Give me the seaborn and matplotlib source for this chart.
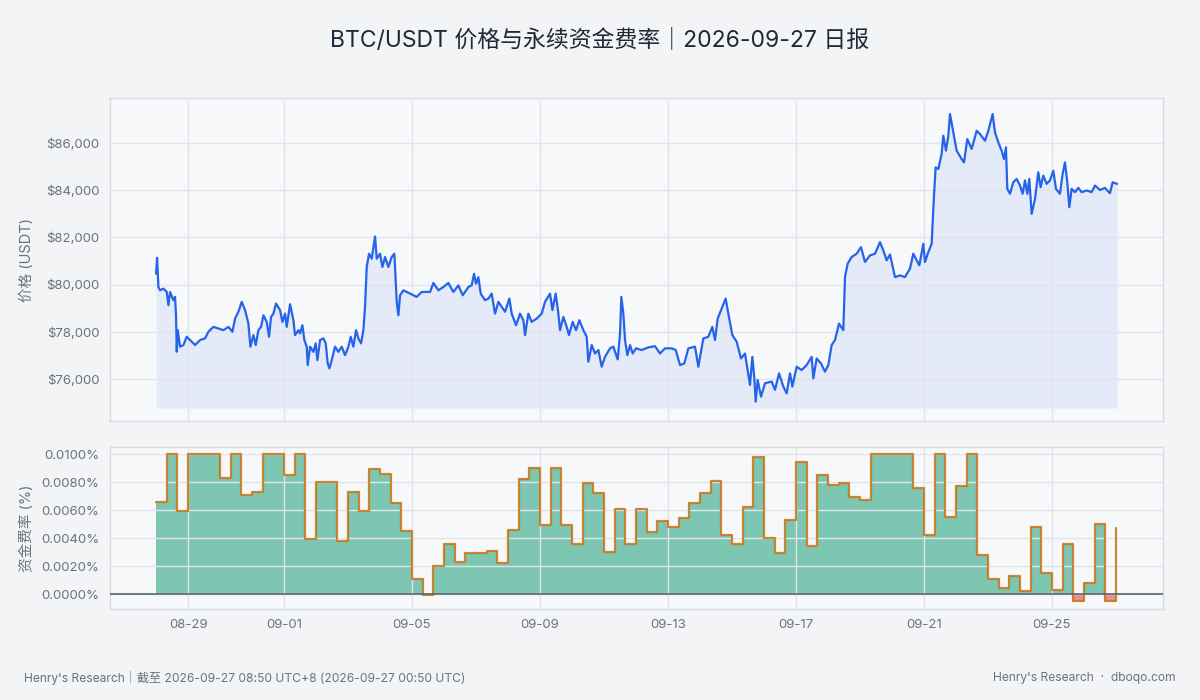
import numpy as np
import pandas as pd
import matplotlib
matplotlib.use("Agg")
import matplotlib.pyplot as plt
import matplotlib.dates as mdates
import matplotlib.ticker as mticker
import seaborn as sns

# ---------------- data ----------------
START = "2026-08-28 00:00"

# price series: hours since START, price (USDT)
price_hours = [
    0, 0.75, 1.75, 3, 5.5, 8, 9.25, 10.5, 13, 14.25, 15, 15.5, 16.25, 18, 20.5, 23, 25.5,
    29.25, 33, 36.75, 39.25, 43, 46.75, 50.5, 54.25, 57.25, 59.25, 61.75, 64.25, 66.75,
    69.25, 70.75, 73, 74.75, 76.75, 78.75, 80.5, 83, 84.75, 86.25, 88, 90, 93, 94.75,
    96.75, 98, 100.5, 103, 104.25, 106.75, 108, 109.75, 111.25, 113, 113.75, 115.5, 118,
    119.75, 121, 123, 125.5, 127.25, 128.75, 130, 131.75, 134.25, 136.75, 139.25, 141.75,
    144.25, 146, 148, 150, 151.75, 153.75, 155.5, 156.75, 158, 159.75, 161.75, 164.25,
    165.5, 168, 169.75, 171.75, 174.25, 176.75, 178.75,
    180, 180.5, 181.75, 183, 185.5, 190.5, 195.5, 199.25, 205.5, 208, 211.75, 215.5,
    219.25, 223, 226.75, 230, 234.25, 236.75, 238.5, 240, 241.75, 243.5, 246.75, 249.25,
    251.75, 254.25, 256.75, 259.25, 261.75, 265, 266.75, 270, 273, 275.5, 276.75, 279.25,
    281.75, 285.5, 289.25, 291.75, 295.5, 297.25, 299.75, 301.75, 303, 305.5, 308, 309.75,
    312.5, 315, 317.5, 320.5, 323, 324.25, 326.75, 329.25, 331.75, 334.25, 336.75, 340.5,
    343, 346.25, 348, 349, 350.5, 351.75, 353.5, 355.5, 357.5, 360,
    364.25, 369.25, 374.25, 378, 381.75, 386.75, 389.75, 393, 396.25, 399.25, 404.25,
    406.75, 410.5, 414.25, 417.25, 419.25, 421.25, 424.25, 427.25, 429.25, 432.25, 435.5,
    438.75, 441.75, 445.5, 447.25, 448.75, 449.75, 451.25, 453.75, 456.75, 461.75, 464.25,
    467.25, 470.5, 473, 475.5, 477.25, 480.5, 484.25, 488, 491.75, 493, 495.5, 498.75,
    501.75, 504.25, 506.75, 509.25, 512.25, 515.5, 516.75, 518.75, 521.75, 525.5, 528.75,
    531.75, 535.5, 539.25, 543,
    545.5, 548, 550.5, 554.25, 558, 561.75, 565.5, 568, 572.5, 575.5, 576.75, 579.25,
    581.75, 583.5, 584.75, 586.75, 589.25, 590.5, 592.5, 594.25, 595.5, 598, 600.5, 604.25,
    606, 608.5, 611.75, 615.5, 618, 621.75, 624.25, 627.5, 629.25, 631.75, 634.25, 636,
    637.5, 638.5, 640.5, 643, 645.5, 648, 650, 651.75, 653.5, 655, 656.75, 659.25, 661.75,
    663.5, 665.5, 668, 670.5, 673, 675, 678, 680, 681.75, 683.5, 685, 686.75, 689.25,
    691.75, 694.25, 698, 701.75, 704.25, 708, 711.75, 715.5, 717.5, 720.8,
]
price_values = [
    80465, 81140, 79900, 79760, 79830, 79690, 79130, 79690, 79340, 79480, 78630, 77155,
    78070, 77370, 77440, 77790, 77650, 77440, 77650, 77720, 78000, 78210, 78140, 78070,
    78210, 78000, 78560, 78850, 79270, 78920, 78350, 77370, 77860, 77440, 78070, 78210,
    78700, 78420, 77790, 78630, 78770, 79200, 78920, 78420, 78770, 78210, 79170, 78490,
    77860, 78070, 77930, 78280, 77650, 77370, 76590, 77370, 77150, 77510, 76800, 77650,
    77720, 77510, 76660, 76450, 76800, 77370, 77150, 77370, 77010, 77370, 77790, 77370,
    78070, 77720, 77510, 78070, 79060, 80750, 81310, 81100, 82040, 81100, 81310, 80750,
    81170, 80750, 81170, 81310,
    79900, 79270, 78700, 79550, 79760, 79620, 79480, 79690, 79690, 80070, 79760, 79900,
    80070, 79690, 79970, 79550, 79900, 79970, 80460, 80040, 80320, 79620, 79340, 79410,
    79620, 78770, 79270, 79060, 78850, 79410, 78770, 78280, 78770, 78490, 77860, 78770,
    78420, 78560, 78770, 79270, 79620, 78920, 79620, 78770, 78070, 78630, 78210, 77860,
    78420, 78070, 78490, 78070, 77790, 76730, 77440, 77080, 77230, 76520, 76940, 77300,
    77370, 76830, 77930, 79480, 78770, 77650, 77010, 77440, 77080, 77300,
    77230, 77340, 77390, 77080, 77300, 77300, 77230, 76590, 76660, 77300, 77370,
    76520, 77720, 77790, 78210, 77650, 78560, 78990, 79410, 78770, 77860, 77580,
    76870, 77080, 75750, 76940, 76030, 75040, 75960, 75250, 75820, 75890, 75540,
    76240, 75680, 75390, 76240, 75680, 76520, 76380, 76590, 76940, 76030, 76870, 76660,
    76310, 76590, 77440, 77650, 78350, 78070, 80320, 80890, 81170, 81310, 81590,
    80960, 81240, 81310, 81800,
    81450, 81030, 81280, 80320, 80390, 80320, 80680, 81310, 80820, 81730, 80960, 81380,
    81730, 83770, 84970, 84900, 85540, 86310, 85680, 86310, 87230, 86450, 85680, 85320,
    85180, 86170, 85750, 86520, 86380, 86100, 86520, 87230, 86450, 86030, 85680, 85320,
    85820, 84060, 83850, 84340, 84480, 84200, 83850, 84420, 83850, 84480, 83000, 83630, 84760,
    84130, 84620, 84270, 84420, 84830, 84060, 83850, 84690, 85180, 84340, 83280, 84060, 83920,
    84100, 83920, 83990, 83920, 84200, 84010, 84100, 83870, 84340, 84270,
]

# funding rate (%), one value per 8h settlement from 08-28 00:00 to 09-27 00:00
funding_rate = [
    0.0066, 0.0100, 0.0059, 0.0100, 0.0100, 0.0100, 0.0083, 0.0100, 0.0071, 0.0073,
    0.0100, 0.0100, 0.0085, 0.0100, 0.0039, 0.0080, 0.0080, 0.0038, 0.0073, 0.0059,
    0.0089, 0.0086, 0.0065, 0.0045, 0.0011, -0.0001, 0.0020, 0.0036, 0.0023, 0.0029,
    0.0029, 0.0031, 0.0022, 0.0046, 0.0082, 0.0090, 0.0049, 0.0090, 0.0049, 0.0036,
    0.0079, 0.0072, 0.0030, 0.0061, 0.0036, 0.0061, 0.0044, 0.0052, 0.0048, 0.0054,
    0.0065, 0.0072, 0.0081, 0.0042, 0.0036, 0.0062, 0.0098, 0.0040, 0.0029, 0.0053,
    0.0094, 0.0034, 0.0085, 0.0078, 0.0079, 0.0069, 0.0067, 0.0100, 0.0100, 0.0100,
    0.0100, 0.0076, 0.0042, 0.0100, 0.0055, 0.0077, 0.0100, 0.0028, 0.0011, 0.0004,
    0.0013, 0.0002, 0.0048, 0.0015, 0.0003, 0.0036, -0.0005, 0.0008, 0.0050, -0.0005,
    0.0047,
]

price_ticks = [76000, 78000, 80000, 82000, 84000, 86000]
funding_ticks = [0.0, 0.002, 0.004, 0.006, 0.008, 0.010]

TITLE = "BTC/USDT 价格与永续资金费率｜2026-09-27 日报"
FOOT_LEFT = "Henry's Research｜截至 2026-09-27 08:50 UTC+8 (2026-09-27 00:50 UTC)"
FOOT_RIGHT = "Henry's Research  ·  dboqo.com"

# ---------------- frames ----------------
t0 = pd.Timestamp(START)
price_df = pd.DataFrame({
    "time": t0 + pd.to_timedelta(price_hours, unit="h"),
    "price": price_values,
})
fund_df = pd.DataFrame({
    "time": pd.date_range(t0, periods=len(funding_rate), freq="8h"),
    "rate": funding_rate,
})

# ---------------- style ----------------
sns.set_theme(style="whitegrid")
plt.rcParams["font.family"] = ["Inter", "Noto Sans CJK SC", "DejaVu Sans"]
plt.rcParams["axes.unicode_minus"] = False

FIG_BG = "#f3f4f6"
AX_BG = "#f7f8fa"
GRID = "#e1e4ea"
SPINE = "#d6dae1"
TXT = "#6b7280"

fig = plt.figure(figsize=(12, 7), dpi=100, facecolor=FIG_BG)
ax1 = fig.add_axes([110 / 1200, 1 - 421 / 700, 1053 / 1200, 323 / 700])
ax2 = fig.add_axes([110 / 1200, 1 - 609 / 700, 1053 / 1200, 162 / 700], sharex=ax1)

for ax in (ax1, ax2):
    ax.set_facecolor(AX_BG)
    ax.grid(True, color=GRID, linewidth=1.0)
    ax.set_axisbelow(False)
    for s in ax.spines.values():
        s.set_color(SPINE)
        s.set_linewidth(1.0)
    ax.tick_params(axis="both", labelsize=9.5, length=4, width=1,
                   labelcolor=TXT, color="#4b5563")

# ---- price panel ----
pmin, pmax = 74770, 87910
sns.lineplot(data=price_df, x="time", y="price", ax=ax1, color="#2563eb",
             linewidth=1.6, zorder=4)
ax1.fill_between(price_df["time"], price_df["price"], pmin, color="#2563eb",
                 alpha=0.09, linewidth=0, zorder=1)
ax1.set_ylim(74220, pmax)
ax1.set_yticks(price_ticks)
ax1.yaxis.set_major_formatter(mticker.FuncFormatter(lambda v, p: f"${v:,.0f}"))
ax1.set_xlabel("")
ax1.set_ylabel("价格 (USDT)", color=TXT, fontsize=10.5)
ax1.yaxis.set_label_coords(-0.072, 0.5)
plt.setp(ax1.get_xticklabels(), visible=False)

# ---- funding panel ----
t = fund_df["time"]
r = fund_df["rate"].to_numpy()
ax2.fill_between(t, np.clip(r, 0, None), 0, step="post", color="#059669",
                 alpha=0.5, linewidth=0, zorder=1)
ax2.fill_between(t, np.clip(r, None, 0), 0, step="post", color="#dc2626",
                 alpha=0.5, linewidth=0, zorder=1)
ax2.step(t, r, where="post", color="#c97a1c", linewidth=1.6, alpha=0.9, zorder=3)
ax2.axhline(0, color="#5b6576", linewidth=1.2, zorder=3)
ax2.set_ylim(-0.00107, 0.0105)
ax2.set_yticks(funding_ticks)
ax2.yaxis.set_major_formatter(mticker.FuncFormatter(lambda v, p: f"{v:.4f}%"))
ax2.set_ylabel("资金费率 (%)", color=TXT, fontsize=10.5)
ax2.yaxis.set_label_coords(-0.072, 0.5)
ax2.set_xlabel("")

ax2.xaxis.set_major_locator(mdates.DayLocator(bymonthday=[1, 5, 9, 13, 17, 21, 25, 29]))
ax2.xaxis.set_major_formatter(mdates.DateFormatter("%m-%d"))
ax2.set_xlim(t0 - pd.Timedelta(days=1.44), t0 + pd.Timedelta(days=31.47))

# ---- texts ----
fig.text(0.5, 1 - 40 / 700, TITLE, ha="center", va="center", fontsize=16.5,
         color="#1f2937")
fig.text(24 / 1200, 1 - 678 / 700, FOOT_LEFT, ha="left", va="center",
         fontsize=8.7, color=TXT)
fig.text(1176 / 1200, 1 - 678 / 700, FOOT_RIGHT, ha="right", va="center",
         fontsize=8.7, color=TXT)

fig.savefig("out.png", dpi=100, facecolor=FIG_BG)
